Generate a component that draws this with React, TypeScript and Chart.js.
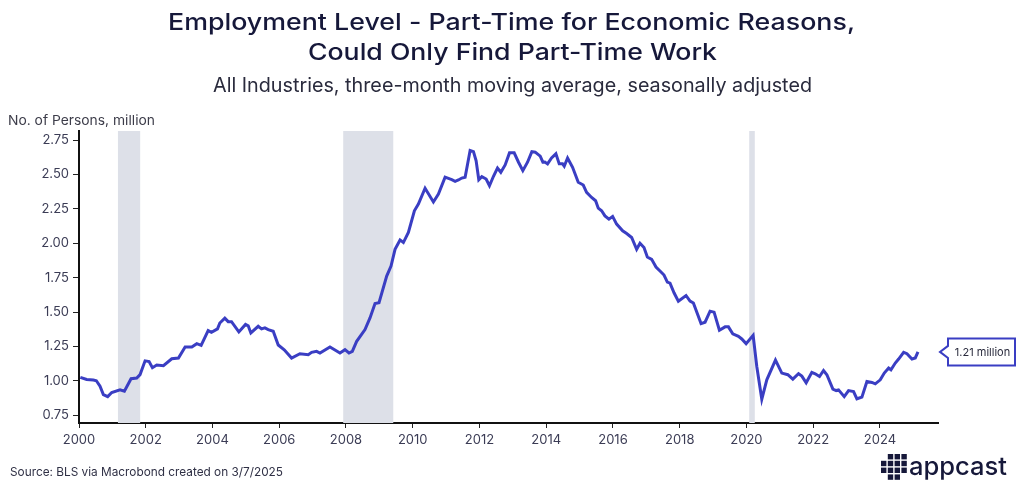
import React, { useEffect, useRef } from "react";
import { Chart, registerables } from "chart.js";

Chart.register(...registerables);

// ---- data (decimal years, millions of persons) ----
const dates: number[] = [
  2000.04, 2000.23, 2000.43, 2000.52, 2000.63, 2000.73, 2000.86, 2000.98, 2001.23, 2001.36,
  2001.56, 2001.73, 2001.83, 2001.98, 2002.10, 2002.20, 2002.33, 2002.53, 2002.78, 2002.98,
  2003.18, 2003.38, 2003.53, 2003.66, 2003.87, 2003.97, 2004.15, 2004.22, 2004.37, 2004.47,
  2004.57, 2004.79, 2004.99, 2005.07, 2005.15, 2005.37, 2005.47, 2005.57, 2005.67, 2005.82,
  2005.97, 2006.15, 2006.37, 2006.62, 2006.87, 2006.97, 2007.12, 2007.22, 2007.52, 2007.82,
  2007.97, 2008.09, 2008.19, 2008.32, 2008.57, 2008.72, 2008.87, 2008.99, 2009.22, 2009.35,
  2009.47, 2009.62, 2009.72, 2009.87, 2010.05, 2010.17, 2010.37, 2010.62, 2010.77, 2010.97,
  2011.17, 2011.27, 2011.37, 2011.47, 2011.57, 2011.72, 2011.82, 2011.90, 2011.98, 2012.07,
  2012.20, 2012.30, 2012.42, 2012.54, 2012.64, 2012.77, 2012.90, 2013.04, 2013.17, 2013.30,
  2013.44, 2013.57, 2013.67, 2013.82, 2013.90, 2013.96, 2014.04, 2014.16, 2014.29, 2014.39,
  2014.49, 2014.54, 2014.64, 2014.79, 2014.96, 2015.11, 2015.21, 2015.36, 2015.48, 2015.56,
  2015.66, 2015.76, 2015.88, 2015.99, 2016.11, 2016.29, 2016.41, 2016.56, 2016.71, 2016.81,
  2016.93, 2017.03, 2017.16, 2017.29, 2017.41, 2017.53, 2017.63, 2017.71, 2017.83, 2017.96,
  2018.19, 2018.31, 2018.41, 2018.64, 2018.76, 2018.91, 2019.03, 2019.19, 2019.36, 2019.46,
  2019.59, 2019.76, 2019.86, 2019.99, 2020.20, 2020.31, 2020.46, 2020.61, 2020.87, 2021.06,
  2021.24, 2021.39, 2021.56, 2021.66, 2021.79, 2021.96, 2022.06, 2022.19, 2022.31, 2022.41,
  2022.59, 2022.69, 2022.76, 2022.93, 2023.06, 2023.21, 2023.31, 2023.46, 2023.61, 2023.76,
  2023.86, 2024.01, 2024.13, 2024.26, 2024.33, 2024.46, 2024.56, 2024.71, 2024.81, 2024.96,
  2025.06, 2025.14,
];

const persons: number[] = [
  1.025, 1.01, 1.005, 1.0, 0.96, 0.9, 0.885, 0.915, 0.935, 0.925,
  1.015, 1.02, 1.045, 1.145, 1.14, 1.095, 1.115, 1.11, 1.16, 1.165,
  1.245, 1.245, 1.27, 1.258, 1.365, 1.352, 1.377, 1.42, 1.455, 1.43,
  1.43, 1.355, 1.41, 1.4, 1.348, 1.396, 1.377, 1.385, 1.372, 1.36,
  1.26, 1.225, 1.165, 1.197, 1.19, 1.207, 1.214, 1.202, 1.246, 1.202,
  1.226, 1.202, 1.214, 1.287, 1.372, 1.457, 1.562, 1.567, 1.761, 1.834,
  1.956, 2.024, 2.005, 2.078, 2.236, 2.285, 2.4, 2.3, 2.358, 2.48,
  2.462, 2.45, 2.46, 2.474, 2.48, 2.674, 2.666, 2.6, 2.462, 2.484,
  2.467, 2.418, 2.487, 2.547, 2.516, 2.569, 2.657, 2.657, 2.589, 2.528,
  2.589, 2.666, 2.662, 2.633, 2.589, 2.59, 2.577, 2.62, 2.65, 2.577,
  2.577, 2.56, 2.62, 2.552, 2.443, 2.423, 2.37, 2.333, 2.309, 2.255,
  2.236, 2.199, 2.175, 2.195, 2.139, 2.09, 2.071, 2.042, 1.956, 2.0,
  1.969, 1.9, 1.883, 1.827, 1.798, 1.769, 1.717, 1.71, 1.64, 1.579,
  1.62, 1.579, 1.565, 1.416, 1.426, 1.506, 1.499, 1.367, 1.392, 1.392,
  1.341, 1.323, 1.304, 1.27, 1.33, 1.104, 0.866, 1.007, 1.15, 1.056,
  1.044, 1.012, 1.051, 1.034, 0.985, 1.061, 1.051, 1.031, 1.075, 1.044,
  0.939, 0.929, 0.934, 0.885, 0.929, 0.922, 0.869, 0.881, 0.995, 0.988,
  0.978, 1.007, 1.056, 1.093, 1.08, 1.129, 1.158, 1.207, 1.197, 1.158,
  1.166, 1.21,
];

const recessionStarts: number[] = [2001.167, 2007.917, 2020.083];
const recessionEnds: number[] = [2001.833, 2009.417, 2020.25];

const yTicks: number[] = [0.75, 1.0, 1.25, 1.5, 1.75, 2.0, 2.25, 2.5, 2.75];
const xTickStep = 2;

const titleLines: string[] = [
  "Employment Level - Part-Time for Economic Reasons,",
  "Could Only Find Part-Time Work",
];
const subtitle = "All Industries, three-month moving average, seasonally adjusted";
const yAxisTitle = "No. of Persons, million";
const sourceText = "Source: BLS via Macrobond created on 3/7/2025";
const lastLabel = "1.21 million";
const logoText = "appcast";

const LINE_COLOR = "#3a3ec3";
const NAVY = "#16183a";
const FONT = "Inter, 'Noto Sans', sans-serif";

// draws text stretched horizontally to a target width
function fitText(ctx: any, text: string, x: number, y: number, width: number, align: "left" | "center") {
  const w = ctx.measureText(text).width;
  const k = width / w;
  ctx.save();
  ctx.textAlign = "left";
  const left = align === "center" ? x - width / 2 : x;
  ctx.translate(left, y);
  ctx.scale(k, 1);
  ctx.fillText(text, 0, 0);
  ctx.restore();
}

const recessionPlugin = {
  id: "recessions",
  beforeDatasetsDraw(chart: any) {
    const { ctx, chartArea, scales } = chart;
    const xs = scales.x;
    ctx.save();
    ctx.fillStyle = "#dde0e8";
    for (let i = 0; i < recessionStarts.length; i++) {
      const x0 = xs.getPixelForValue(recessionStarts[i]);
      const x1 = xs.getPixelForValue(recessionEnds[i]);
      ctx.fillRect(x0, chartArea.top, x1 - x0, chartArea.bottom - chartArea.top);
    }
    ctx.restore();
  },
};

const decorPlugin = {
  id: "decor",
  afterDraw(chart: any) {
    const { ctx, chartArea, scales } = chart;
    ctx.save();
    ctx.textBaseline = "alphabetic";
    // titles
    ctx.fillStyle = NAVY;
    ctx.font = `500 23px ${FONT}`;
    fitText(ctx, titleLines[0], 511.5, 29.5, 687, "center");
    fitText(ctx, titleLines[1], 512.5, 60, 409, "center");
    ctx.fillStyle = "#2a2b3d";
    ctx.font = `400 20px ${FONT}`;
    fitText(ctx, subtitle, 512.5, 92, 599, "center");

    // y axis title
    ctx.fillStyle = "#3d3d4a";
    ctx.font = `400 13.5px ${FONT}`;
    fitText(ctx, yAxisTitle, 8, 125, 147, "left");

    // source
    ctx.fillStyle = "#2f3045";
    ctx.font = `400 12px ${FONT}`;
    fitText(ctx, sourceText, 10, 476, 273, "left");

    // callout for last value
    const lastY = persons[persons.length - 1];
    const py = scales.y.getPixelForValue(lastY);
    const tipX = chartArea.right + 2;
    const bx0 = tipX + 8;
    const bx1 = bx0 + 67;
    const bh = 27;
    const by0 = py - bh / 2;
    const by1 = py + bh / 2;
    ctx.beginPath();
    ctx.moveTo(bx0, by0);
    ctx.lineTo(bx1, by0);
    ctx.lineTo(bx1, by1);
    ctx.lineTo(bx0, by1);
    ctx.lineTo(bx0, py + 6);
    ctx.lineTo(tipX, py);
    ctx.lineTo(bx0, py - 6);
    ctx.closePath();
    ctx.fillStyle = "#ffffff";
    ctx.fill();
    ctx.strokeStyle = LINE_COLOR;
    ctx.lineWidth = 2;
    ctx.stroke();
    ctx.fillStyle = "#2a2b3d";
    ctx.font = `400 11px ${FONT}`;
    ctx.textAlign = "center";
    ctx.textBaseline = "middle";
    ctx.fillText(lastLabel, (bx0 + bx1) / 2 + 1, py + 0.5);

    // logo
    ctx.fillStyle = NAVY;
    const cells: number[][] = [
      [0, 1], [0, 2],
      [1, 0], [1, 1], [1, 2], [1, 3],
      [2, 0], [2, 1], [2, 2], [2, 3],
      [3, 0], [3, 1], [3, 2],
    ];
    const gx = 881, gy = 454, cs = 5.4, gap = 1.4;
    for (const [c, r] of cells) {
      ctx.fillRect(gx + c * (cs + gap), gy + r * (cs + gap), cs, cs);
    }
    ctx.textAlign = "left";
    ctx.textBaseline = "alphabetic";
    ctx.font = `500 25px ${FONT}`;
    fitText(ctx, logoText, 909, 474.5, 98, "left");
    ctx.restore();
  },
};

export default function App() {
  const ref = useRef<HTMLCanvasElement | null>(null);

  useEffect(() => {
    if (!ref.current) return;
    const points = dates.map((d, i) => ({ x: d, y: persons[i] }));
    const tickFont = { family: FONT, size: 13 };
    const chart = new Chart(ref.current, {
      type: "line",
      data: {
        datasets: [
          {
            data: points,
            borderColor: LINE_COLOR,
            borderWidth: 3,
            pointRadius: 0,
            tension: 0,
            fill: false,
          },
        ],
      },
      options: {
        animation: false,
        responsive: true,
        maintainAspectRatio: false,
        layout: { padding: { left: 0, right: 86, top: 131, bottom: 39 } },
        plugins: {
          legend: { display: false },
          tooltip: { enabled: false },
          title: { display: false },
        },
        scales: {
          x: {
            type: "linear",
            min: 2000,
            max: 2025.74,
            grid: { drawOnChartArea: false, drawTicks: true, tickLength: 5, color: "#222" },
            border: { display: true, color: "#111", width: 2 },
            ticks: {
              stepSize: xTickStep,
              includeBounds: false,
              padding: 4,
              color: "#3b3c55",
              font: tickFont,
              maxRotation: 0,
              callback: (v: any) => String(v),
            },
            afterBuildTicks: (s: any) => {
              s.ticks = s.ticks.filter((t: any) => Number.isInteger(t.value) && t.value % xTickStep === 0);
            },
            afterFit: (s: any) => {
              s.height = 30;
            },
          },
          y: {
            type: "linear",
            min: 0.693,
            max: 2.816,
            grid: { drawOnChartArea: false, drawTicks: true, tickLength: 6, color: "#222" },
            border: { display: true, color: "#111", width: 2 },
            ticks: {
              padding: 4,
              color: "#3b3c55",
              font: tickFont,
              callback: (v: any) => Number(v).toFixed(2),
            },
            afterBuildTicks: (s: any) => {
              s.ticks = yTicks.map((v) => ({ value: v }));
            },
            afterFit: (s: any) => {
              s.width = 79;
            },
          },
        },
      },
      plugins: [recessionPlugin, decorPlugin],
    });
    return () => chart.destroy();
  }, []);

  return (
    <div style={{ position: "fixed", left: 0, top: 0, width: 1024, height: 492, background: "#fff" }}>
      <canvas ref={ref} />
    </div>
  );
}
